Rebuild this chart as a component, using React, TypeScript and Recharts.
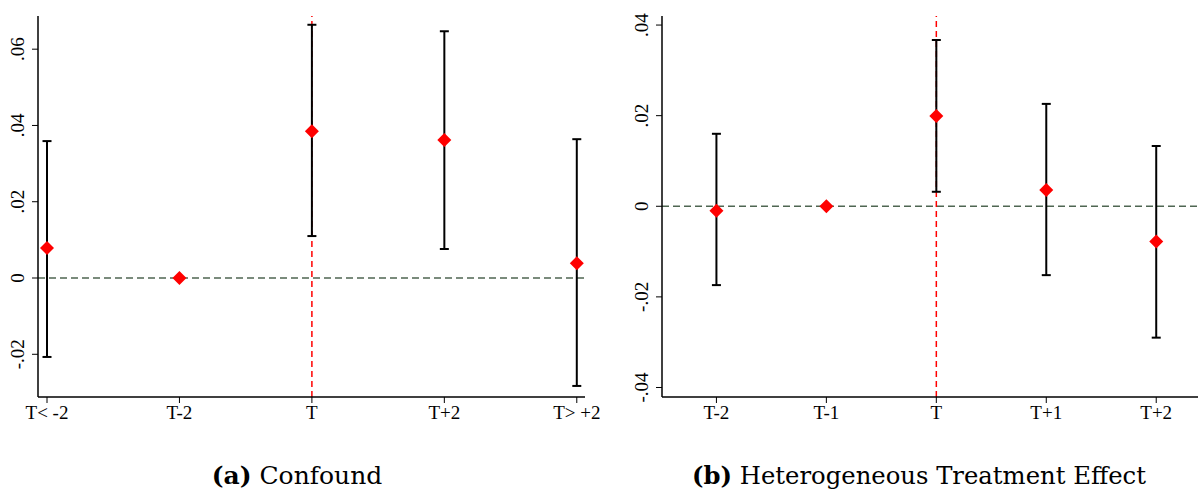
import { ComposedChart, Scatter, ErrorBar, XAxis, YAxis, ReferenceLine } from 'recharts'

// panel (a) Confound
const leftLabels = ['T< -2', 'T-2', 'T', 'T+2', 'T> +2']
const leftEst = [0.0079, 0, 0.0385, 0.0362, 0.0039]
const leftLo = [-0.0207, null, 0.011, 0.0076, -0.0283]
const leftHi = [0.0359, null, 0.0664, 0.0647, 0.0364]
const leftTicks = [-0.02, 0, 0.02, 0.04, 0.06]

// panel (b) Heterogeneous Treatment Effect
const rightLabels = ['T-2', 'T-1', 'T', 'T+1', 'T+2']
const rightEst = [-0.001, 0, 0.0199, 0.0036, -0.0078]
const rightLo = [-0.0174, null, 0.0032, -0.0152, -0.029]
const rightHi = [0.016, null, 0.0367, 0.0226, 0.0133]
const rightTicks = [-0.04, -0.02, 0, 0.02, 0.04]

const FONT = 'Liberation Serif, serif'
const CAPTION_FONT = 'DejaVu Serif, serif'

const fmt = (v: number) => {
  if (v === 0) return '0'
  const s = Math.abs(v).toFixed(2).replace(/^0/, '')
  return v < 0 ? '-' + s : s
}

const build = (est: number[], lo: (number | null)[], hi: (number | null)[]) =>
  est.map((y, i) => ({
    x: i,
    y,
    err: lo[i] == null || hi[i] == null ? undefined : [y - (lo[i] as number), (hi[i] as number) - y],
  }))

const Diamond = (props: any) => {
  const { cx, cy } = props
  if (cx == null || cy == null) return null
  const r = 7
  return <polygon points={`${cx},${cy - r} ${cx + r},${cy} ${cx},${cy + r} ${cx - r},${cy}`} fill="#ff0000" />
}

const YTick = (props: any) => {
  const { x, y, payload } = props
  return (
    <text x={x} y={y} transform={`rotate(-90 ${x} ${y})`} textAnchor="middle" fontSize={19} fontFamily={FONT} fill="#000">
      {fmt(payload.value)}
    </text>
  )
}

const XTick = (props: any) => {
  const { x, y, payload, labels } = props
  return (
    <text x={x} y={y + 14} textAnchor="middle" fontSize={19} fontFamily={FONT} fill="#000">
      {labels[payload.value] ?? ''}
    </text>
  )
}

type PanelProps = {
  labels: string[]
  est: number[]
  lo: (number | null)[]
  hi: (number | null)[]
  ticks: number[]
  yDomain: [number, number]
  xDomain: [number, number]
}

function Panel({ labels, est, lo, hi, ticks, yDomain, xDomain }: PanelProps) {
  const data = build(est, lo, hi)
  return (
    <ComposedChart width={600} height={440} data={data} margin={{ top: 16, right: 15, bottom: 0, left: 0 }}>
      <XAxis
        dataKey="x"
        type="number"
        domain={xDomain}
        ticks={[0, 1, 2, 3, 4]}
        height={43}
        tickSize={6}
        tickMargin={2}
        axisLine={{ stroke: '#000', strokeWidth: 1.5 }}
        tickLine={{ stroke: '#000' }}
        tick={<XTick labels={labels} />}
        allowDataOverflow
      />
      <XAxis xAxisId="top" orientation="top" type="number" domain={xDomain} height={0} tick={false} tickLine={false} axisLine={{ stroke: '#888', strokeWidth: 1.5 }} allowDataOverflow />
      <YAxis
        type="number"
        domain={yDomain}
        ticks={ticks}
        width={38}
        tickSize={6}
        tickMargin={8}
        axisLine={{ stroke: '#000', strokeWidth: 1.5 }}
        tickLine={{ stroke: '#000' }}
        tick={<YTick />}
        allowDataOverflow
      />
      <YAxis yAxisId="right" orientation="right" type="number" domain={yDomain} width={0} tick={false} tickLine={false} axisLine={{ stroke: '#888', strokeWidth: 1.5 }} allowDataOverflow />
      <ReferenceLine y={0} stroke="#4f6652" strokeWidth={1.3} strokeDasharray="7 4" />
      <ReferenceLine x={2} stroke="#ff0000" strokeWidth={1.5} strokeDasharray="6 4" />
      <Scatter dataKey="y" shape={<Diamond />} isAnimationActive={false}>
        <ErrorBar dataKey="err" direction="y" width={4.5} stroke="#000" strokeWidth={2} />
      </Scatter>
    </ComposedChart>
  )
}

export default function App() {
  return (
    <div style={{ position: 'absolute', left: 0, top: 0, width: 1198, height: 489, overflow: 'hidden', background: '#fff' }}>
      <div style={{ position: 'absolute', left: 0, top: 0 }}>
        <Panel labels={leftLabels} est={leftEst} lo={leftLo} hi={leftHi} ticks={leftTicks} yDomain={[-0.0312, 0.0687]} xDomain={[-0.068, 4.062]} />
      </div>
      <div style={{ position: 'absolute', left: 624, top: 0 }}>
        <Panel labels={rightLabels} est={rightEst} lo={rightLo} hi={rightHi} ticks={rightTicks} yDomain={[-0.0421, 0.042]} xDomain={[-0.495, 4.48]} />
      </div>
      <svg width={1198} height={489} style={{ position: 'absolute', left: 0, top: 0, pointerEvents: 'none' }}>
        <text x={297} y={484} textAnchor="middle" fontSize={25} fontFamily={CAPTION_FONT} fill="#000">
          <tspan fontWeight="bold">(a)</tspan> Confound
        </text>
        <text x={919} y={484} textAnchor="middle" fontSize={24.3} fontFamily={CAPTION_FONT} fill="#000">
          <tspan fontWeight="bold">(b)</tspan> Heterogeneous Treatment Effect
        </text>
      </svg>
    </div>
  )
}
